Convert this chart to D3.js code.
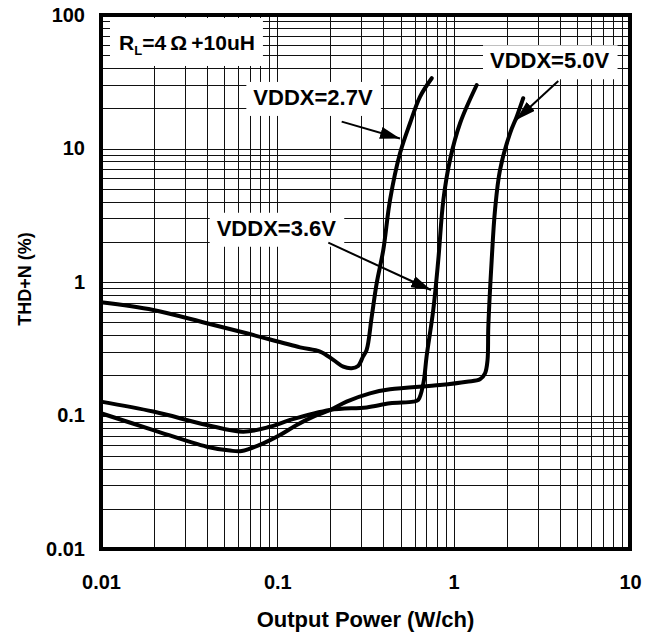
<!DOCTYPE html>
<html>
<head>
<meta charset="utf-8">
<style>
body { margin: 0; background: #fff; }
text { font-family: 'Liberation Sans', Arial, sans-serif; font-weight: bold; fill: #000; }
</style>
</head>
<body>
<div id="chart"></div>
<script src="https://d3js.org/d3.v7.min.js"></script>
<script>
// values (output power in W/ch, THD+N in %)
var pwr27 = [0.01, 0.0198, 0.0398, 0.067, 0.1345, 0.1746, 0.2077, 0.2366, 0.2642, 0.287, 0.306, 0.321, 0.343, 0.366, 0.399, 0.4355, 0.4963, 0.5655, 0.644, 0.751]
var thd27 = [0.705, 0.617, 0.491, 0.413, 0.324, 0.301, 0.261, 0.232, 0.226, 0.235, 0.276, 0.31, 0.55, 0.98, 1.74, 4.11, 9.2, 15.45, 24.4, 33.6]

var pwr36 = [0.01, 0.0198, 0.0398, 0.0641, 0.091, 0.118, 0.199, 0.321, 0.4355, 0.59, 0.63, 0.673, 0.703, 0.766, 0.818, 0.874, 0.953, 1.087, 1.351]
var thd36 = [0.127, 0.107, 0.085, 0.0757, 0.0824, 0.0925, 0.11, 0.115, 0.1234, 0.127, 0.131, 0.174, 0.28, 0.617, 1.46, 4.11, 8.2, 15.45, 29.9]

var pwr50 = [0.01, 0.0198, 0.0398, 0.0539, 0.0628, 0.0833, 0.1035, 0.1288, 0.16, 0.199, 0.247, 0.335, 0.4355, 0.837, 1.186, 1.41, 1.506, 1.556, 1.572, 1.643, 1.716, 1.831, 2.087, 2.278, 2.48]
var thd50 = [0.104, 0.0778, 0.0584, 0.0546, 0.0542, 0.0619, 0.0714, 0.0849, 0.098, 0.11, 0.127, 0.1466, 0.157, 0.169, 0.179, 0.187, 0.207, 0.26, 0.46, 1.46, 3.46, 6.9, 13.0, 17.3, 23.8]

var xTickValues = [0.01, 0.1, 1, 10]
var xTickLabels = ['0.01', '0.1', '1', '10']
var yTickValues = [0.01, 0.1, 1, 10, 100]
var yTickLabels = ['0.01', '0.1', '1', '10', '100']

// annotations: label text, label anchor [P, THD], arrow from [P, THD] to [P, THD]
var labelNames = ['VDDX=2.7V', 'VDDX=3.6V', 'VDDX=5.0V']
var labelPos = [[0.0731, 21.2], [0.0453, 2.22], [1.607, 39.9]]
var arrowFrom = [[0.2317, 15.9], [0.1946, 1.97], [3.92, 32.0]]
var arrowTo = [[0.4963, 11.9], [0.744, 0.871], [2.257, 16.35]]
var loadPos = [0.01265, 54.7]

var margin = { top: 15, left: 101, right: 22, bottom: 92 }
var width = 652 - margin.left - margin.right
var height = 641 - margin.top - margin.bottom

var svg = d3.select('#chart')
  .append('svg')
  .attr('width', 652)
  .attr('height', 641)
  .append('g')
  .attr('transform', 'translate(' + margin.left + ',' + margin.top + ')')

var xPositionScale = d3.scaleLog().domain([0.01, 10]).range([0, width])
var yPositionScale = d3.scaleLog().domain([0.01, 100]).range([height, 0])

// grid
svg.append('g')
  .selectAll('line')
  .data(xPositionScale.ticks())
  .enter().append('line')
  .attr('x1', d => Math.round(xPositionScale(d)) + 0.5)
  .attr('x2', d => Math.round(xPositionScale(d)) + 0.5)
  .attr('y1', 0)
  .attr('y2', height)
  .attr('stroke', '#111')
  .attr('stroke-width', 1)

svg.append('g')
  .selectAll('line')
  .data(yPositionScale.ticks())
  .enter().append('line')
  .attr('x1', 0)
  .attr('x2', width)
  .attr('y1', d => Math.round(yPositionScale(d)) + 0.5)
  .attr('y2', d => Math.round(yPositionScale(d)) + 0.5)
  .attr('stroke', '#111')
  .attr('stroke-width', 1)

// axes labels
var xAxis = d3.axisBottom(xPositionScale)
  .tickValues(xTickValues)
  .tickFormat((d, i) => xTickLabels[i])
  .tickSize(0)
  .tickPadding(26)
svg.append('g')
  .attr('class', 'axis x-axis')
  .attr('transform', 'translate(0,' + height + ')')
  .call(xAxis)

var yAxis = d3.axisLeft(yPositionScale)
  .tickValues(yTickValues)
  .tickFormat((d, i) => yTickLabels[i])
  .tickSize(0)
  .tickPadding(16)
svg.append('g')
  .attr('class', 'axis y-axis')
  .call(yAxis)

svg.selectAll('.axis .domain').remove()
svg.selectAll('.axis text')
  .attr('font-family', null)
  .style('font-size', '20px')

svg.append('text')
  .text('Output Power (W/ch)')
  .attr('x', width / 2)
  .attr('y', height + 78)
  .attr('text-anchor', 'middle')
  .style('font-size', '22px')

svg.append('text')
  .text('THD+N (%)')
  .attr('transform', 'translate(' + (31 - margin.left) + ',' + (height / 2 - 3) + ') rotate(-90)')
  .attr('text-anchor', 'middle')
  .style('font-size', '18px')

// label boxes
function boxedLabel(sel, padL, padR, padT, padB) {
  var bb = sel.node().getBBox()
  svg.insert('rect', function() { return sel.node() })
    .attr('x', bb.x - padL)
    .attr('y', bb.y - padT)
    .attr('width', bb.width + padL + padR)
    .attr('height', bb.height + padT + padB)
    .attr('fill', '#fff')
}

var load = svg.append('text')
  .attr('x', xPositionScale(loadPos[0]))
  .attr('y', yPositionScale(loadPos[1]))
  .style('font-size', '21px')
load.append('tspan').text('R')
load.append('tspan').text('L').style('font-size', '13px').attr('dy', 5)
load.append('tspan').text('=4\u2009\u03A9\u2009+10uH').attr('dy', -5)
boxedLabel(load, 9, 8, 13, 8)

labelNames.forEach(function(name, i) {
  var t = svg.append('text')
    .text(name)
    .attr('x', xPositionScale(labelPos[i][0]))
    .attr('y', yPositionScale(labelPos[i][1]))
    .style('font-size', '22px')
  boxedLabel(t, 7, 8, 3, 6)
})

// curves
var line = d3.line()
  .x(d => xPositionScale(d[0]))
  .y(d => yPositionScale(d[1]))
  .curve(d3.curveCatmullRom.alpha(0.5))

var series = [
  d3.zip(pwr27, thd27),
  d3.zip(pwr36, thd36),
  d3.zip(pwr50, thd50)
]

svg.selectAll('.curve')
  .data(series)
  .enter().append('path')
  .attr('class', 'curve')
  .attr('d', line)
  .attr('fill', 'none')
  .attr('stroke', '#000')
  .attr('stroke-width', 4)
  .attr('stroke-linecap', 'round')
  .attr('stroke-linejoin', 'round')

// arrows
svg.append('defs').append('marker')
  .attr('id', 'head')
  .attr('markerUnits', 'userSpaceOnUse')
  .attr('viewBox', '0 0 20 12')
  .attr('markerWidth', 20)
  .attr('markerHeight', 12)
  .attr('refX', 20)
  .attr('refY', 6)
  .attr('orient', 'auto')
  .append('path')
  .attr('d', 'M0,0L20,6L0,12Z')
  .attr('fill', '#000')

svg.selectAll('.arrow')
  .data(arrowFrom)
  .enter().append('line')
  .attr('class', 'arrow')
  .attr('x1', d => xPositionScale(d[0]))
  .attr('y1', d => yPositionScale(d[1]))
  .attr('x2', (d, i) => xPositionScale(arrowTo[i][0]))
  .attr('y2', (d, i) => yPositionScale(arrowTo[i][1]))
  .attr('stroke', '#000')
  .attr('stroke-width', 2)
  .attr('marker-end', 'url(#head)')

// frame
svg.append('rect')
  .attr('x', 0)
  .attr('y', 0)
  .attr('width', width)
  .attr('height', height)
  .attr('fill', 'none')
  .attr('stroke', '#000')
  .attr('stroke-width', 4)
</script>
</body>
</html>
